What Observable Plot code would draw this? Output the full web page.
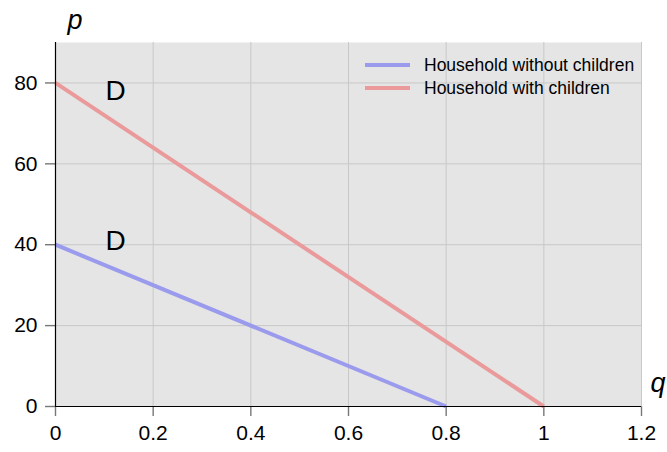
<!DOCTYPE html>
<html>
<head>
<meta charset="utf-8">
<script src="https://cdn.jsdelivr.net/npm/d3@7"></script>
<script src="https://cdn.jsdelivr.net/npm/@observablehq/plot@0.6"></script>
<style>
  html, body { margin: 0; padding: 0; background: #fff; }
</style>
</head>
<body>
<div id="chart"></div>
<script>
const seriesNames = ["Household without children", "Household with children"];
const seriesColors = ["#9b9bee", "#ea9a9a"];
const withoutQ = [0, 0.8];
const withoutP = [40, 0];
const withQ = [0, 1];
const withP = [80, 0];
const xTicks = [0, 0.2, 0.4, 0.6, 0.8, 1, 1.2];
const yTicks = [0, 20, 40, 60, 80];
const curveLabels = ["D", "D"];
const labelQ = [0.123, 0.123];
const labelP = [78, 41];

const rows = [
  ...withoutQ.map((q, i) => ({series: seriesNames[0], q, p: withoutP[i]})),
  ...withQ.map((q, i) => ({series: seriesNames[1], q, p: withP[i]}))
];
const labels = curveLabels.map((t, i) => ({t, q: labelQ[i], p: labelP[i]}));

const W = 667, H = 452;
const plot = Plot.plot({
  width: W, height: H,
  marginLeft: 55, marginRight: 26, marginTop: 42, marginBottom: 46,
  x: {domain: [0, 1.2], ticks: xTicks, tickSize: 10, tickPadding: 9, tickFormat: d => String(d), label: null},
  y: {domain: [0, 90], ticks: yTicks, tickSize: 10, tickPadding: 8, tickFormat: d => String(d), label: null},
  marks: [
    Plot.frame({fill: "#e5e5e5", stroke: null}),
    Plot.gridX(xTicks.filter(d => d > 0), {stroke: "#c8c8c8", strokeOpacity: 1}),
    Plot.gridY(yTicks.filter(d => d > 0), {stroke: "#c8c8c8", strokeOpacity: 1}),
    Plot.line(rows, {x: "q", y: "p", z: "series", stroke: d => seriesColors[seriesNames.indexOf(d.series)], strokeWidth: 4, strokeLinecap: "butt"}),
    Plot.ruleX([0], {stroke: "black", strokeWidth: 1.2}),
    Plot.ruleY([0], {stroke: "black", strokeWidth: 1.2}),
    Plot.text(labels, {x: "q", y: "p", text: "t", fontSize: 28, fill: "black", lineAnchor: "middle"})
  ]
});
plot.setAttribute("font-family", "Liberation Sans, Arial, sans-serif");
plot.setAttribute("font-size", "21");
document.getElementById("chart").appendChild(plot);

const svg = d3.select(plot);
svg.selectAll('g[aria-label="x-axis tick"], g[aria-label="y-axis tick"]')
  .attr("stroke", "#777").attr("stroke-width", 1.4).attr("stroke-opacity", 1);

svg.append("text").attr("x", 75).attr("y", 29).attr("text-anchor", "middle")
  .attr("font-size", 27).attr("font-style", "italic").text("p");
svg.append("text").attr("x", 658).attr("y", 392).attr("text-anchor", "middle")
  .attr("font-size", 27).attr("font-style", "italic").text("q");

const leg = svg.append("g").attr("text-anchor", "start");
seriesNames.forEach((name, i) => {
  const y = 65 + i * 23;
  leg.append("line").attr("x1", 365).attr("x2", 410).attr("y1", y).attr("y2", y)
    .attr("stroke", seriesColors[i]).attr("stroke-width", 4);
  leg.append("text").attr("x", 424).attr("y", y).attr("dy", "0.35em")
    .attr("font-size", 17.5).text(name);
});
</script>
</body>
</html>
